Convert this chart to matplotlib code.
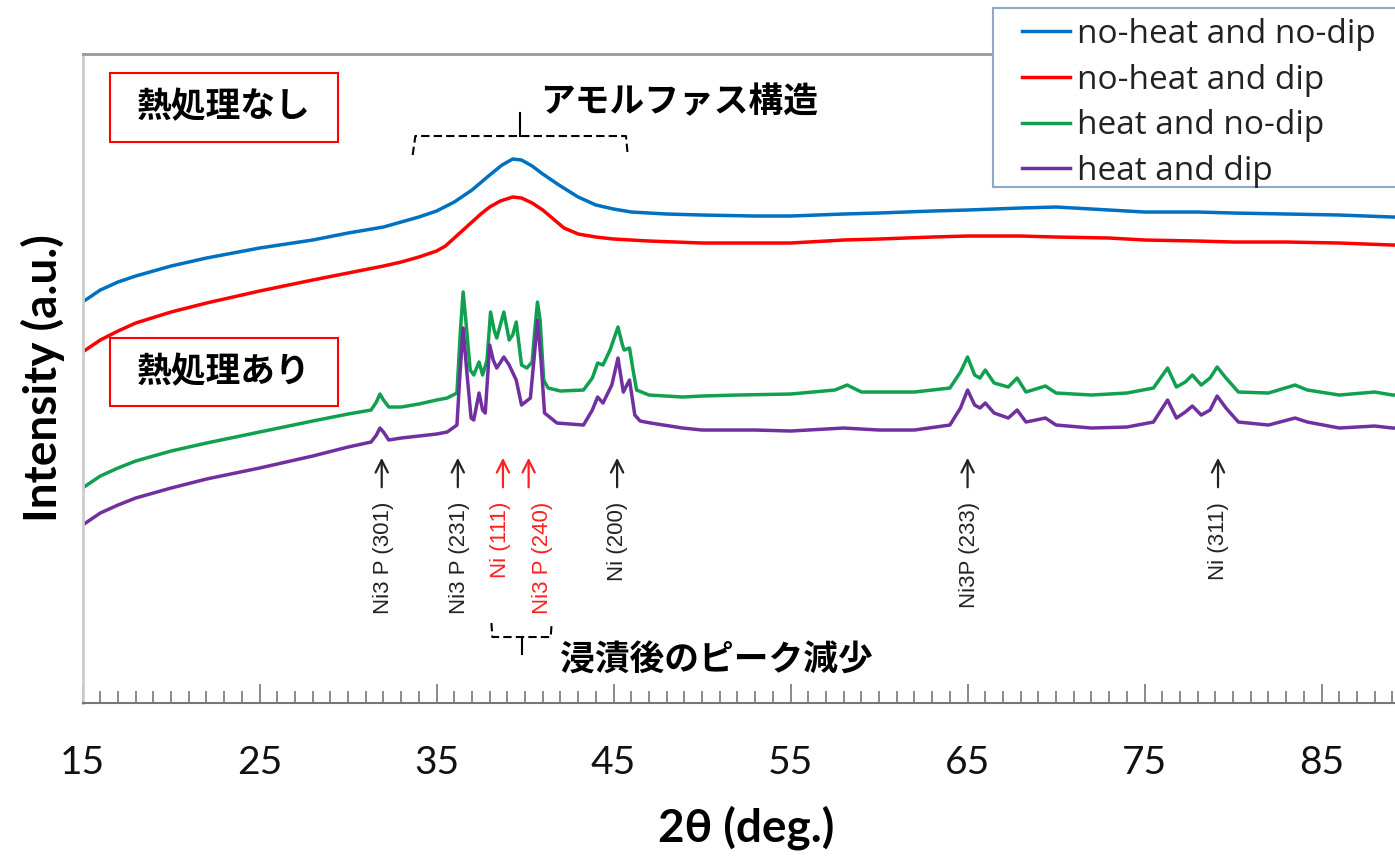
import matplotlib
matplotlib.use("Agg")
import matplotlib.pyplot as plt
from matplotlib.patches import Rectangle

# XRD patterns, 2theta in degrees, intensity in arbitrary units
x_noheat_nodip = [15, 16, 17, 18, 20, 22, 25, 28, 30, 32, 33, 34, 35, 36, 37, 38, 38.7, 39.3, 39.8,
                  40.4, 41, 42, 43, 44, 45, 46, 48, 50, 53, 55, 58, 60, 63, 65, 68, 70, 72, 75, 78,
                  80, 83, 86, 89, 90]
y_noheat_nodip = [401, 413, 421, 427, 437, 445, 455, 463, 470, 476, 481, 486, 492, 501, 513, 528, 538,
                  544, 543, 537, 529, 517, 506, 498, 494, 491, 489, 488, 487, 487, 489, 490, 492, 493,
                  495, 496, 494, 491, 491, 490, 489, 488, 486, 486]

x_noheat_dip = [15, 16, 17, 18, 20, 22, 25, 28, 30, 32, 33, 34, 35, 35.5, 36, 36.5, 37, 37.5, 38, 38.6,
                39.3, 39.8, 40.4, 41, 41.6, 42.2, 43, 44, 45, 47, 50, 53, 55, 58, 60, 63, 65, 68, 70,
                73, 75, 78, 80, 83, 86, 89, 90]
y_noheat_dip = [351, 363, 372, 380, 391, 400, 412, 423, 430, 437, 441, 446, 452, 457, 465, 473, 481,
                489, 496, 502, 506, 505, 500, 493, 484, 475, 469, 466, 464, 462, 460, 460, 460, 463,
                464, 466, 467, 467, 466, 465, 463, 462, 461, 461, 460, 458, 458]

x_heat_nodip = [15, 16, 17, 18, 20, 22, 25, 28, 30, 31.3, 31.6, 31.8, 32.0, 32.3, 33, 34, 35, 35.6,
                36.15, 36.35, 36.5, 36.65, 36.9, 37.1, 37.4, 37.6, 37.85, 38.05, 38.25, 38.4, 38.8,
                39.1, 39.3, 39.5, 39.8, 40.1, 40.4, 40.55, 40.7, 40.85, 41.05, 41.3, 42, 43.3, 43.8,
                44.1, 44.4, 44.8, 45.25, 45.5, 45.6, 45.9, 46.1, 46.3, 47, 48.9, 50, 52, 55, 57.5,
                58.2, 59, 62, 64, 64.6, 65.0, 65.4, 65.7, 66.0, 66.5, 67.3, 67.8, 68.3, 69.4, 70, 72,
                74, 75.5, 76.3, 76.8, 77.3, 77.7, 78.2, 78.7, 79.1, 79.6, 80.3, 82, 83.5, 84.2, 86,
                88, 89, 90]
y_heat_nodip = [215, 227, 235, 242, 252, 260, 271, 282, 289, 293, 301, 309, 303, 296, 296, 299, 303,
                305, 310, 373, 411, 383, 333, 328, 341, 328, 343, 391, 373, 365, 391, 363, 368, 381,
                338, 335, 341, 373, 401, 383, 323, 315, 312, 313, 325, 340, 338, 353, 376, 358, 353,
                355, 333, 313, 308, 306, 307, 308, 309, 313, 318, 311, 311, 315, 331, 346, 328, 325,
                333, 320, 316, 325, 311, 317, 310, 308, 310, 315, 335, 316, 321, 328, 318, 325, 336,
                325, 311, 310, 318, 313, 308, 311, 308, 308]

x_heat_dip = [15, 16, 17, 18, 20, 22, 25, 28, 30, 31.3, 31.6, 31.8, 32.0, 32.3, 33, 34, 35, 35.6,
              36.15, 36.3, 36.5, 36.7, 36.95, 37.1, 37.4, 37.6, 37.75, 38.0, 38.2, 38.4, 38.8, 39.1,
              39.5, 39.8, 40.3, 40.5, 40.7, 40.9, 41.1, 41.8, 43.3, 43.8, 44.1, 44.4, 44.9, 45.25,
              45.55, 45.9, 46.2, 46.5, 47.1, 48.9, 50, 53, 55, 58, 60, 62, 64, 64.6, 65.0, 65.4,
              65.7, 66.0, 66.5, 67.3, 67.8, 68.3, 69.4, 70, 72, 74, 75.5, 76.3, 76.8, 77.3, 77.7,
              78.2, 78.7, 79.1, 79.6, 80.3, 82, 83.5, 84.2, 86, 88, 89, 90]
y_heat_dip = [178, 190, 198, 205, 215, 224, 235, 247, 256, 261, 268, 275, 271, 263, 265, 267, 269,
              271, 278, 323, 375, 333, 285, 283, 310, 293, 290, 358, 343, 335, 346, 338, 323, 298,
              305, 343, 383, 343, 290, 280, 278, 293, 306, 300, 318, 345, 311, 323, 288, 282, 280,
              275, 273, 273, 272, 275, 273, 273, 278, 295, 313, 298, 295, 300, 290, 285, 293, 281,
              285, 278, 275, 276, 281, 303, 285, 291, 297, 288, 293, 307, 295, 281, 278, 285, 281,
              275, 277, 275, 275]

series = [
    (x_noheat_nodip, y_noheat_nodip, "no-heat and no-dip", "#0070C0"),
    (x_noheat_dip, y_noheat_dip, "no-heat and dip", "#FF0000"),
    (x_heat_nodip, y_heat_nodip, "heat and no-dip", "#10A050"),
    (x_heat_dip, y_heat_dip, "heat and dip", "#7030A0"),
]

# peak labels: position, text, colour
peak_pos = [31.9, 36.2, 38.75, 40.2, 45.2, 65.0, 79.15]
peak_txt = ["Ni3 P (301)", "Ni3 P (231)", "Ni (111)", "Ni3 P (240)", "Ni (200)", "Ni3P (233)", "Ni (311)"]
peak_col = ["#222222", "#222222", "#FF2020", "#FF2020", "#222222", "#222222", "#222222"]
label_x = [32.0, 36.3, 38.6, 41.0, 45.2, 65.1, 79.15]

fig = plt.figure(figsize=(13.95, 8.56), dpi=100)
ax = fig.add_axes([0.0592, 0.1787, 0.9516, 0.7582])

for xs, ys, lab, col in series:
    ax.plot(xs, ys, color=col, lw=2.5, label=lab)

ax.set_xlim(15, 90)
ax.set_ylim(0, 649)
ax.set_xticks([15, 25, 35, 45, 55, 65, 75, 85])
ax.set_xticks(range(15, 91), minor=True)
ax.set_yticks([])
ax.tick_params(axis="x", which="major", direction="in", length=14, width=1.2, color="#777777",
               pad=30, labelsize=28, labelcolor="#111111")
ax.tick_params(axis="x", which="minor", direction="in", length=9, width=1.2, color="#777777")
for lbl in ax.get_xticklabels():
    lbl.set_family(["Lato", "DejaVu Sans"])

ax.spines["bottom"].set_color("#777777")
ax.spines["bottom"].set_linewidth(1.5)
ax.spines["top"].set_color("#999999")
ax.spines["top"].set_linewidth(2)
ax.spines["left"].set_color("#cccccc")
ax.spines["left"].set_linewidth(2)

ax.set_xlabel("2θ (deg.)", fontsize=33, fontweight="bold", family=["Lato", "DejaVu Sans"], labelpad=18)
ax.set_ylabel("Intensity (a.u.)", fontsize=33, fontweight="bold", family=["Lato", "DejaVu Sans"], labelpad=13)

# peak arrows and labels
for p, c in zip(peak_pos, peak_col):
    ax.annotate("", xy=(p, 248), xytext=(p, 213),
                arrowprops=dict(arrowstyle="->", color=c, lw=1.6, mutation_scale=22))
for lx, t, c in zip(label_x, peak_txt, peak_col):
    ax.text(lx, 201, t, rotation=90, ha="center", va="top", fontsize=16, color=c,
            family="Liberation Sans")

# dashed brackets
ax.plot([33.65, 33.8, 45.7, 45.8], [548, 567, 567, 548], color="black", lw=1.5, ls=(0, (4, 2)))
ax.plot([39.7, 39.7], [567, 590], color="black", lw=1.5)
ax.plot([38.1, 38.15, 41.45, 41.5], [80, 66, 66, 80], color="black", lw=1.5, ls=(0, (4, 2)))
ax.plot([39.8, 39.8], [66, 49], color="black", lw=1.5)

jp = ["Noto Sans CJK JP", "DejaVu Sans"]
ax.text(48.7, 601, "アモルファス構造", fontsize=25, fontweight="bold", family=jp, ha="center", va="center")
ax.text(50.8, 43, "浸漬後のピーク減少", fontsize=25, fontweight="bold", family=jp, ha="center", va="center")

# red boxed labels
ax.add_patch(Rectangle((16.55, 561), 12.88, 69, fill=False, edgecolor="#FF0000", lw=1.5))
ax.text(22.99, 596, "熱処理なし", fontsize=25, fontweight="bold", family=jp, ha="center", va="center")
ax.add_patch(Rectangle((16.55, 297), 12.88, 68, fill=False, edgecolor="#FF0000", lw=1.5))
ax.text(22.99, 331, "熱処理あり", fontsize=25, fontweight="bold", family=jp, ha="center", va="center")

# legend box runs off the right edge, so the frame is drawn separately
fig.patches.append(Rectangle((0.7118, 1 - 187 / 856), 0.3, 179 / 856, transform=fig.transFigure,
                             fill=True, facecolor="white", edgecolor="#8fa8c8", lw=1.5, zorder=5))
leg = fig.legend(loc="upper left", bbox_to_anchor=(1022 / 1395, 1 - 18 / 856),
                 prop={"family": "Open Sans", "size": 24}, frameon=False,
                 borderpad=0, borderaxespad=0, labelspacing=0.38, handlelength=1.44,
                 handletextpad=0.21)
leg.set_zorder(6)
for t in leg.get_texts():
    t.set_color("#222222")

fig.savefig("out.png", dpi=100)
